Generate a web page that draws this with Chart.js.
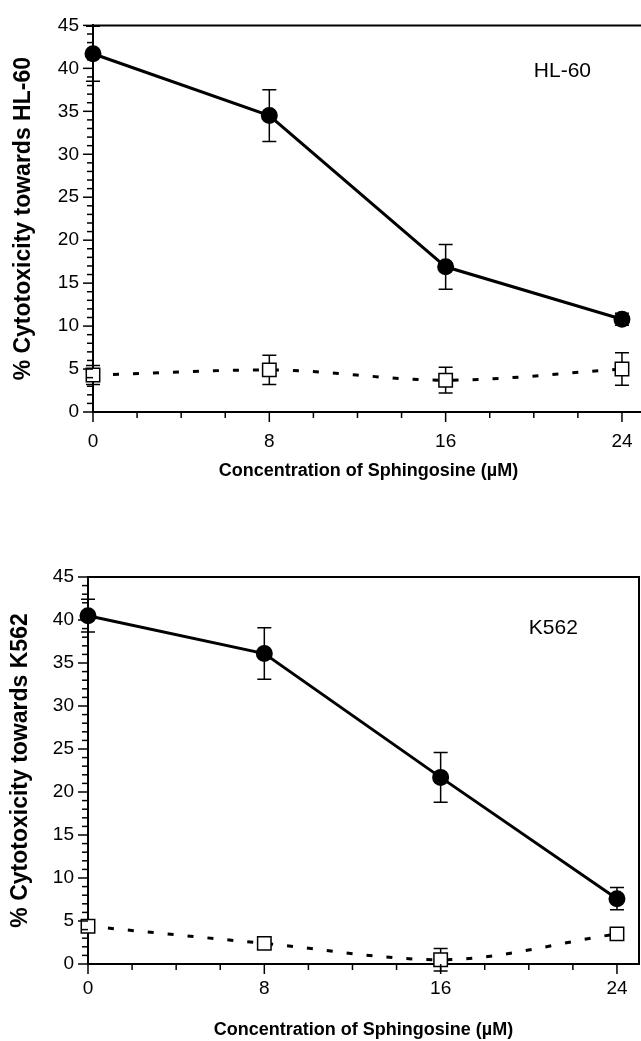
<!DOCTYPE html>
<html lang="en">
<head>
<meta charset="UTF-8">
<title>Cytotoxicity vs sphingosine</title>
<script src="https://cdn.jsdelivr.net/npm/chart.js"></script>
<style>
  html, body { margin: 0; padding: 0; background: #fff; overflow: hidden; }
  .painel { position: absolute; left: 0; width: 660px; }
  #topo { top: 0; height: 500px; }
  #baixo { top: 540px; height: 501px; }
</style>
</head>
<body>
<div class="painel" id="topo"><canvas id="graficoHL60"></canvas></div>
<div class="painel" id="baixo"><canvas id="graficoK562"></canvas></div>
<script>
// dados (uM de esfingosina)
const concentracoes = [0, 8, 16, 24];
const hl60Tratado = [41.7, 34.5, 16.9, 10.8];
const hl60TratadoErro = [3.2, 3.0, 2.6, 0.7];
const hl60Controle = [4.3, 4.9, 3.7, 5.0];
const hl60ControleErro = [1.1, 1.7, 1.5, 1.9];
const k562Tratado = [40.5, 36.1, 21.7, 7.6];
const k562TratadoErro = [1.9, 3.0, 2.9, 1.3];
const k562Controle = [4.4, 2.4, 0.5, 3.5];
const k562ControleErro = [0.3, 0.3, 1.3, 0.4];
const xRotulos = [0, 8, 16, 24];
const yRotulos = [0, 5, 10, 15, 20, 25, 30, 35, 40, 45];

const fonte = 'Liberation Sans, Arial, sans-serif';

// barras de erro, desenhadas antes dos pontos
const barrasErro = {
  id: 'barrasErro',
  beforeDatasetsDraw(chart) {
    const {ctx, scales: {y}} = chart;
    ctx.save();
    ctx.strokeStyle = '#000';
    ctx.lineWidth = 1.5;
    chart.data.datasets.forEach((ds, i) => {
      const meta = chart.getDatasetMeta(i);
      meta.data.forEach((pt, j) => {
        const v = ds.data[j].y, e = ds.erro[j];
        const y1 = y.getPixelForValue(v + e), y2 = y.getPixelForValue(v - e);
        ctx.beginPath();
        ctx.moveTo(pt.x, y1); ctx.lineTo(pt.x, y2);
        ctx.moveTo(pt.x - 7, y1); ctx.lineTo(pt.x + 7, y1);
        ctx.moveTo(pt.x - 7, y2); ctx.lineTo(pt.x + 7, y2);
        ctx.stroke();
      });
    });
    ctx.restore();
  }
};

// moldura + marcas dos eixos + rotulo da linhagem
const moldura = {
  id: 'moldura',
  afterDraw(chart, args, opts) {
    const {ctx, chartArea: a, scales: {x, y}} = chart;
    ctx.save();
    ctx.strokeStyle = '#000';
    ctx.lineWidth = 2;
    ctx.beginPath();
    ctx.moveTo(a.left, a.top); ctx.lineTo(a.right, a.top); ctx.lineTo(a.right, a.bottom);
    ctx.stroke();
    ctx.lineWidth = 1.5;
    x.ticks.forEach(t => {
      const px = x.getPixelForValue(t.value);
      const len = xRotulos.includes(t.value) ? 10 : 6;
      ctx.beginPath(); ctx.moveTo(px, a.bottom); ctx.lineTo(px, a.bottom + len); ctx.stroke();
    });
    y.ticks.forEach(t => {
      const py = y.getPixelForValue(t.value);
      const len = yRotulos.includes(t.value) ? 10 : 6;
      ctx.beginPath(); ctx.moveTo(a.left, py); ctx.lineTo(a.left - len, py); ctx.stroke();
    });
    ctx.fillStyle = '#000';
    ctx.font = '21px ' + fonte;
    ctx.textBaseline = 'middle';
    ctx.textAlign = 'left';
    ctx.fillText(opts.texto, x.getPixelForValue(opts.px), y.getPixelForValue(opts.py));
    ctx.restore();
  }
};

function pares(ys) {
  return concentracoes.map((c, i) => ({x: c, y: ys[i]}));
}

function criarGrafico(id, tratado, erroT, controle, erroC, tituloY, rotulo, lay) {
  return new Chart(document.getElementById(id), {
    type: 'line',
    data: {
      datasets: [{
        data: pares(tratado),
        erro: erroT,
        borderColor: '#000',
        borderWidth: 3,
        pointStyle: 'circle',
        pointRadius: 7,
        pointBackgroundColor: '#000',
        pointBorderColor: '#000',
        tension: 0,
        clip: false
      }, {
        data: pares(controle),
        erro: erroC,
        borderColor: '#000',
        borderWidth: 3,
        borderDash: [6, 14],
        cubicInterpolationMode: 'monotone',
        pointStyle: 'rect',
        pointRadius: 9.5,
        pointBorderWidth: 1.5,
        pointBackgroundColor: '#fff',
        pointBorderColor: '#000',
        clip: false
      }]
    },
    options: {
      responsive: true,
      maintainAspectRatio: false,
      animation: false,
      layout: {padding: {top: lay.top, right: lay.right, left: 0, bottom: 0}},
      plugins: {
        legend: {display: false},
        tooltip: {enabled: false},
        moldura: {texto: rotulo, px: 20, py: lay.rotuloY}
      },
      scales: {
        x: {
          type: 'linear',
          min: 0, max: 25,
          grid: {display: false, drawTicks: false},
          border: {display: true, color: '#000', width: 2},
          ticks: {
            stepSize: 2, includeBounds: false, autoSkip: false, maxRotation: 0,
            padding: lay.xPad, color: '#000', font: {family: fonte, size: 19},
            callback: v => xRotulos.includes(v) ? String(v) : ''
          },
          title: {
            display: true, text: 'Concentration of Sphingosine (\u00b5M)', color: '#000',
            font: {family: fonte, size: 18, weight: 'bold'},
            padding: {top: 0, bottom: lay.tituloX}
          },
          afterFit: s => { s.height = lay.xAltura; }
        },
        y: {
          min: 0, max: 45,
          grid: {display: false, drawTicks: false},
          border: {display: true, color: '#000', width: 2},
          ticks: {
            stepSize: 1, autoSkip: false, padding: 14, color: '#000',
            font: {family: fonte, size: 19},
            callback: v => yRotulos.includes(v) ? String(v) : ''
          },
          title: {
            display: true, text: tituloY, color: '#000',
            font: {family: fonte, size: 23, weight: 'bold'},
            padding: {top: lay.tituloY, bottom: 0}
          },
          afterFit: s => { s.width = lay.yLargura; }
        }
      }
    },
    plugins: [barrasErro, moldura]
  });
}

criarGrafico('graficoHL60', hl60Tratado, hl60TratadoErro, hl60Controle, hl60ControleErro,
  '% Cytotoxicity towards HL-60', 'HL-60',
  {top: 24, right: 16, xAltura: 88, yLargura: 93, xPad: 18, tituloX: 18, tituloY: 10, rotuloY: 39.7});

criarGrafico('graficoK562', k562Tratado, k562TratadoErro, k562Controle, k562ControleErro,
  '% Cytotoxicity towards K562', 'K562',
  {top: 37, right: 21, xAltura: 77, yLargura: 88, xPad: 13, tituloX: 0, tituloY: 7, rotuloY: 39.0});
</script>
</body>
</html>
